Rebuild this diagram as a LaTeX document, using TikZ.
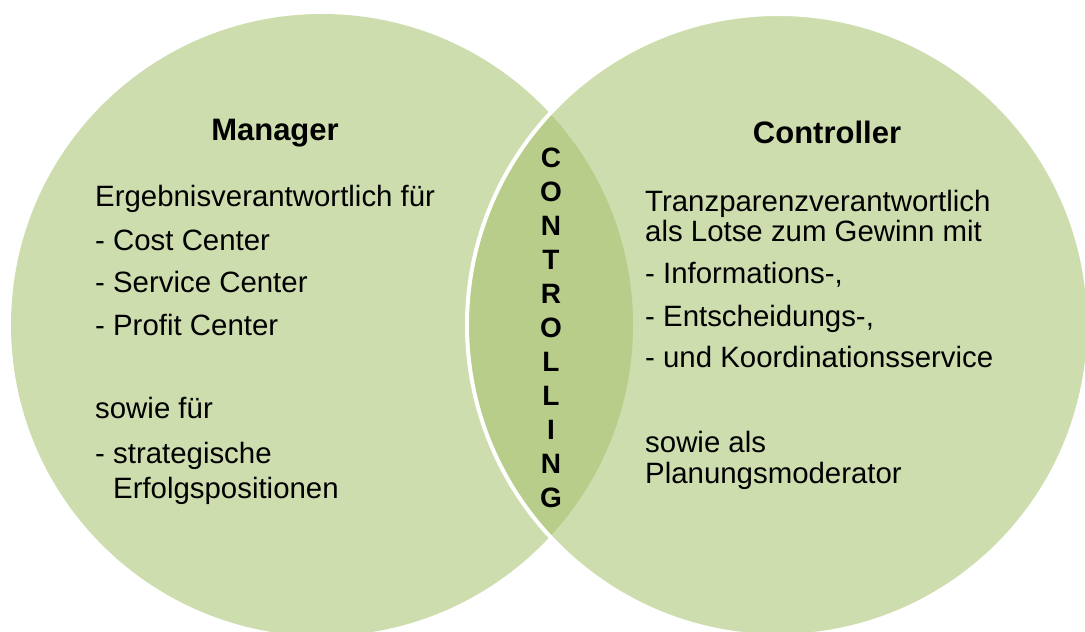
\documentclass[tikz,border=0pt]{standalone}
\usepackage{fontspec}
\setmainfont{Liberation Sans}
\definecolor{circfill}{RGB}{206,221,174}
\definecolor{lensfill}{RGB}{183,205,137}
\tikzset{
  body/.style={anchor=base west, inner sep=0pt, font=\fontsize{29.4bp}{35bp}\selectfont},
  headline/.style={anchor=base, inner sep=0pt, font=\bfseries\fontsize{31bp}{37bp}\selectfont},
  ctrl/.style={anchor=base, inner sep=0pt, font=\bfseries\fontsize{28bp}{32bp}\selectfont},
  sep/.style={white, line width=4bp},
}
\begin{document}
\begin{tikzpicture}[x=1bp,y=-1bp]
\useasboundingbox (0,0) rectangle (1085,632);
\coordinate (L) at (322,325);
\coordinate (R) at (778,325);
\fill[circfill] (L) circle[radius=311bp];
\fill[circfill] (R) circle[radius=311bp];
\begin{scope}
  \clip (L) circle[radius=311bp];
  \fill[lensfill] (R) circle[radius=311bp];
\end{scope}
\draw[sep] (R) circle[radius=311bp];

\node[headline] (mgr) at (275,141) {Manager};
\node[headline] (ctl) at (827,144) {Controller};

\node[body] (l1) at (95,207) {Ergebnisverantwortlich für};
\node[body] (l2) at (95,251) {- Cost Center};
\node[body] (l3) at (95,293) {- Service Center};
\node[body] (l4) at (95,335) {- Profit Center};
\node[body] (l5) at (95,418) {sowie für};
\node[body] (l6) at (95,463) {- strategische};
\node[body] (l7) at (95,498) {\phantom{- }Erfolgspositionen};

\node[body] (r1) at (645,212) {Tranzparenzverantwortlich};
\node[body] (r2) at (645,242) {als Lotse zum Gewinn mit};
\node[body] (r3) at (645,284) {- Informations-,};
\node[body] (r4) at (645,326) {- Entscheidungs-,};
\node[body] (r5) at (645,367) {- und Koordinationsservice};
\node[body] (r6) at (645,452) {sowie als};
\node[body] (r7) at (645,483) {Planungsmoderator};

\foreach \ch [count=\i] in {C,O,N,T,R,O,L,L,I,N,G}
  \node[ctrl] (c\i) at (551,{168+33.9*(\i-1)}) {\ch};
\end{tikzpicture}
\end{document}
